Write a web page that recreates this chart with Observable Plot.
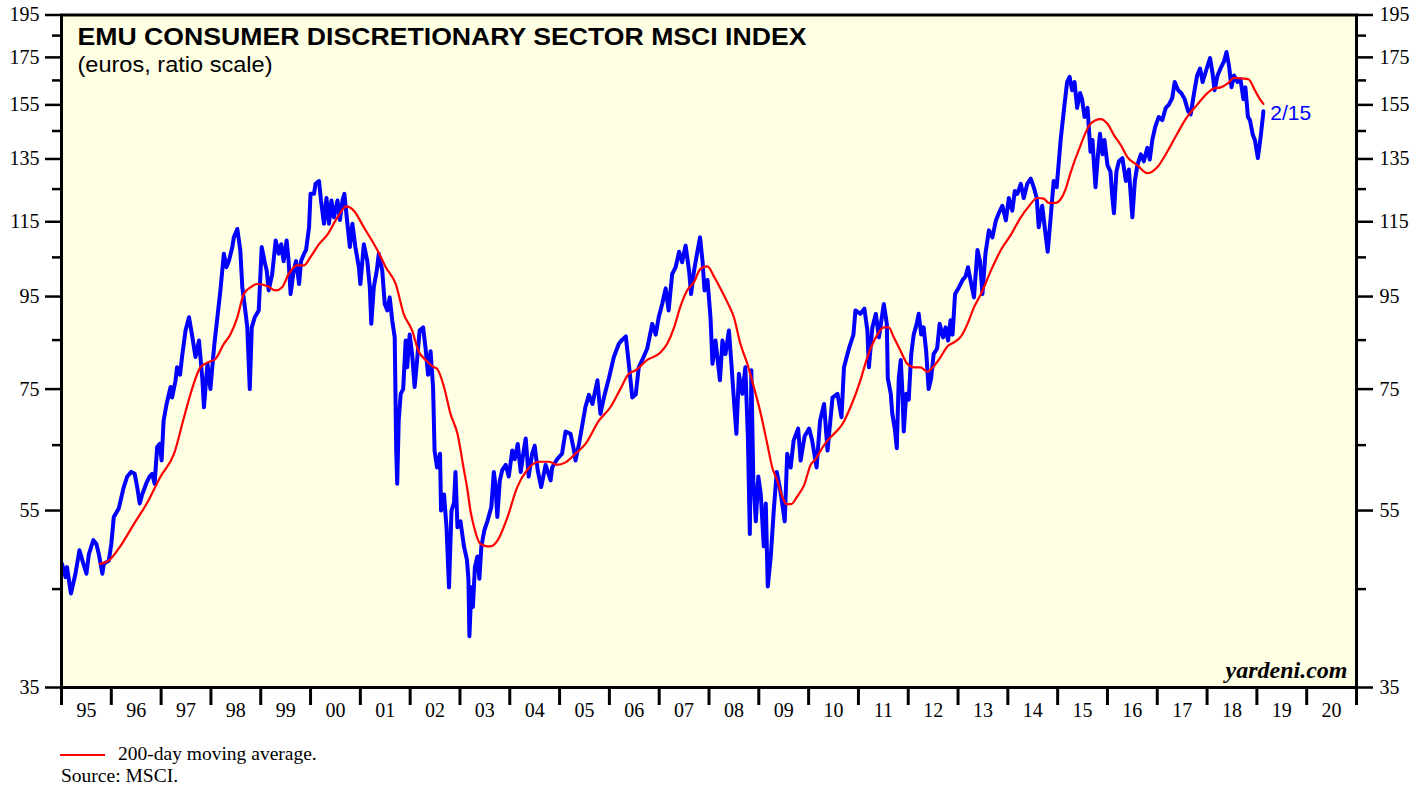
<!DOCTYPE html>
<html><head><meta charset="utf-8">
<script src="https://cdn.jsdelivr.net/npm/d3@7"></script>
<script src="https://cdn.jsdelivr.net/npm/@observablehq/plot@0.6"></script>
<style>
body{margin:0;background:#fff;width:1425px;height:786px;position:relative;overflow:hidden}
#chart{position:absolute;left:0;top:0}
.leg{position:absolute;font-family:"Liberation Serif",serif;font-size:19.5px;line-height:1;color:#000;white-space:nowrap}
.legline{position:absolute;left:60px;top:754px;width:45px;height:2px;background:#ff0000}
</style></head><body>
<div id="chart"></div>
<div class="legline"></div>
<div class="leg" id="legText" style="left:118px;top:743.5px"></div>
<div class="leg" id="srcText" style="left:61px;top:765.8px"></div>
<script>
// ---- Data (decimal year, index level in euros) ----
const indexSeries = [
[1995.01,48.0],[1995.08,46.4],[1995.11,47.6],[1995.19,44.5],[1995.28,46.8],[1995.36,49.7],[1995.42,48.4],[1995.50,46.8],[1995.55,49.2],[1995.64,51.0],[1995.70,50.5],[1995.75,49.2],[1995.82,46.8],[1995.85,48.0],[1995.95,48.4],
[1996.00,50.5],[1996.05,54.1],[1996.15,55.3],[1996.25,58.4],[1996.32,60.0],[1996.40,60.7],[1996.47,60.4],[1996.52,58.4],[1996.57,56.0],[1996.62,57.3],[1996.70,58.9],[1996.77,60.0],[1996.82,60.4],[1996.87,58.9],[1996.92,64.7],[1996.97,65.2],
[1997.01,62.5],[1997.05,69.2],[1997.11,72.2],[1997.19,75.4],[1997.22,73.4],[1997.29,76.7],[1997.32,79.3],[1997.38,77.8],[1997.42,81.4],[1997.49,87.1],[1997.56,90.1],[1997.62,86.2],[1997.69,81.4],[1997.76,84.9],[1997.83,76.7],[1997.86,71.6],[1997.93,80.0],[1997.99,75.0],
[1998.04,80.8],[1998.07,84.2],[1998.13,90.1],[1998.19,96.5],[1998.26,106.0],[1998.31,102.4],[1998.36,104.0],[1998.43,107.8],[1998.46,110.5],[1998.53,112.9],[1998.59,106.9],[1998.63,97.3],[1998.69,91.7],[1998.73,87.8],[1998.78,75.0],[1998.82,87.8],[1998.88,90.1],[1998.96,91.7],
[1999.02,107.8],[1999.08,103.7],[1999.12,101.5],[1999.16,96.5],[1999.23,100.6],[1999.30,109.6],[1999.36,106.0],[1999.41,108.6],[1999.46,104.0],[1999.52,109.6],[1999.56,104.0],[1999.60,95.6],[1999.66,101.5],[1999.71,104.0],[1999.77,98.1],[1999.81,104.0],[1999.87,106.0],[1999.91,107.0],[1999.97,113.4],
[2000.00,123.5],[2000.07,123.5],[2000.10,126.7],[2000.17,127.6],[2000.21,121.4],[2000.27,114.4],[2000.32,122.2],[2000.37,114.4],[2000.42,121.4],[2000.47,116.3],[2000.54,121.4],[2000.59,115.5],[2000.64,121.4],[2000.68,123.5],[2000.74,114.4],[2000.79,107.8],[2000.84,114.4],[2000.90,107.8],[2000.97,102.4],
[2001.00,98.1],[2001.07,108.6],[2001.14,104.0],[2001.19,97.3],[2001.22,88.6],[2001.27,97.3],[2001.33,101.5],[2001.37,106.0],[2001.44,101.5],[2001.49,93.2],[2001.54,91.7],[2001.59,94.8],[2001.64,89.4],[2001.69,85.6],[2001.72,64.1],[2001.74,58.9],[2001.77,69.2],[2001.81,74.1],[2001.86,75.0],[2001.91,84.9],[2001.94,79.3],[2001.99,86.2],
[2002.04,82.0],[2002.09,75.4],[2002.14,80.8],[2002.19,87.1],[2002.26,87.8],[2002.31,83.2],[2002.36,77.8],[2002.41,82.6],[2002.46,75.4],[2002.49,64.1],[2002.54,61.4],[2002.60,63.6],[2002.62,55.0],[2002.68,57.3],[2002.73,52.7],[2002.78,45.2],[2002.83,55.0],[2002.88,56.1],[2002.91,60.7],[2002.95,52.7],
[2003.01,53.5],[2003.08,50.2],[2003.14,48.5],[2003.17,46.2],[2003.19,39.9],[2003.23,45.2],[2003.26,43.0],[2003.30,47.6],[2003.35,48.9],[2003.39,46.2],[2003.43,50.2],[2003.49,52.3],[2003.55,53.5],[2003.63,55.5],[2003.68,60.7],[2003.71,58.9],[2003.75,54.1],[2003.80,59.4],[2003.85,61.0],[2003.92,61.8],[2003.98,60.0],
[2004.05,64.1],[2004.10,62.7],[2004.16,65.2],[2004.22,60.7],[2004.27,63.6],[2004.32,66.1],[2004.38,60.0],[2004.45,63.6],[2004.50,64.9],[2004.56,61.0],[2004.63,58.4],[2004.72,61.8],[2004.82,59.4],[2004.85,61.4],[2004.95,62.7],
[2005.05,63.6],[2005.12,67.3],[2005.22,66.9],[2005.29,64.1],[2005.32,62.5],[2005.39,65.2],[2005.46,68.6],[2005.52,71.7],[2005.59,73.9],[2005.66,72.2],[2005.76,76.7],[2005.82,70.4],[2005.89,73.4],[2005.99,77.1],
[2006.09,81.4],[2006.19,84.2],[2006.26,85.1],[2006.33,85.8],[2006.39,80.0],[2006.46,73.4],[2006.53,74.0],[2006.59,79.3],[2006.66,80.8],[2006.76,83.2],[2006.86,88.6],[2006.93,86.2],[2006.99,90.1],
[2007.06,93.2],[2007.13,97.0],[2007.19,91.7],[2007.26,100.6],[2007.33,102.4],[2007.40,106.5],[2007.46,103.7],[2007.53,108.2],[2007.60,101.5],[2007.64,95.6],[2007.70,101.5],[2007.76,106.0],[2007.82,110.5],[2007.87,104.0],[2007.91,96.5],[2007.97,99.1],
[2008.03,90.1],[2008.07,80.0],[2008.13,84.9],[2008.22,76.7],[2008.27,84.9],[2008.33,82.0],[2008.40,87.1],[2008.45,80.0],[2008.50,73.0],[2008.55,66.9],[2008.60,78.0],[2008.67,74.1],[2008.73,79.3],[2008.78,66.5],[2008.82,51.8],[2008.85,78.7],[2008.89,59.4],[2008.94,53.5],[2008.99,60.0],
[2009.04,57.3],[2009.10,50.2],[2009.14,56.0],[2009.18,45.3],[2009.24,48.9],[2009.30,55.0],[2009.36,60.7],[2009.42,58.4],[2009.47,56.0],[2009.52,53.5],[2009.57,63.6],[2009.64,61.4],[2009.70,65.8],[2009.79,67.8],[2009.84,62.5],[2009.92,66.5],
[2010.01,67.8],[2010.07,65.8],[2010.16,61.4],[2010.23,69.2],[2010.31,72.2],[2010.38,64.1],[2010.48,73.4],[2010.58,74.1],[2010.66,69.8],[2010.71,79.3],[2010.81,83.2],[2010.90,86.2],[2010.94,91.7],
[2011.04,90.9],[2011.12,92.1],[2011.18,87.1],[2011.21,79.3],[2011.28,87.8],[2011.35,90.9],[2011.41,85.6],[2011.51,93.2],[2011.57,88.6],[2011.59,77.1],[2011.65,74.1],[2011.68,70.4],[2011.73,67.8],[2011.77,64.5],[2011.81,77.1],[2011.85,80.8],[2011.88,75.0],[2011.91,67.3],[2011.96,74.1],
[2012.01,73.0],[2012.06,82.0],[2012.11,86.2],[2012.17,88.6],[2012.21,90.9],[2012.26,86.2],[2012.31,87.8],[2012.36,82.6],[2012.41,75.0],[2012.46,77.1],[2012.51,82.0],[2012.58,83.2],[2012.63,88.6],[2012.70,85.6],[2012.75,87.8],[2012.80,84.9],[2012.85,89.4],[2012.89,86.2],[2012.94,95.6],
[2013.02,97.3],[2013.09,99.1],[2013.15,100.0],[2013.20,102.4],[2013.25,99.1],[2013.32,94.8],[2013.39,107.0],[2013.44,104.0],[2013.49,95.6],[2013.55,106.0],[2013.62,112.5],[2013.69,110.5],[2013.76,115.4],[2013.82,117.6],[2013.89,119.8],[2013.96,115.4],
[2014.02,122.2],[2014.09,118.3],[2014.14,124.4],[2014.19,123.5],[2014.26,126.7],[2014.32,122.2],[2014.39,126.7],[2014.46,128.4],[2014.52,125.6],[2014.58,122.2],[2014.62,113.4],[2014.69,119.8],[2014.74,113.4],[2014.80,106.5],[2014.86,116.3],[2014.92,127.6],[2014.98,125.6],
[2015.06,141.7],[2015.13,153.8],[2015.19,164.3],[2015.24,166.5],[2015.29,160.9],[2015.34,164.3],[2015.39,153.8],[2015.45,159.8],[2015.49,157.3],[2015.54,150.3],[2015.60,153.8],[2015.63,145.1],[2015.66,137.5],[2015.70,141.7],[2015.73,132.9],[2015.76,125.6],[2015.81,136.6],[2015.85,144.0],[2015.90,136.6],[2015.94,141.7],
[2016.00,132.9],[2016.06,130.7],[2016.10,122.2],[2016.13,117.5],[2016.18,130.7],[2016.23,134.2],[2016.30,135.3],[2016.37,127.6],[2016.43,131.4],[2016.50,116.3],[2016.55,127.6],[2016.60,132.9],[2016.67,136.6],[2016.73,134.2],[2016.80,138.9],[2016.85,134.8],[2016.90,141.7],[2016.96,146.6],
[2017.03,150.3],[2017.10,149.1],[2017.17,153.8],[2017.23,155.0],[2017.30,157.7],[2017.35,164.3],[2017.42,160.9],[2017.48,159.8],[2017.55,157.3],[2017.62,152.5],[2017.67,151.3],[2017.74,159.8],[2017.80,167.1],[2017.86,170.1],[2017.91,164.3],[2017.95,167.1],
[2018.01,171.3],[2018.06,174.7],[2018.11,168.0],[2018.15,160.9],[2018.21,167.1],[2018.27,170.1],[2018.34,173.2],[2018.39,177.4],[2018.44,171.3],[2018.49,162.1],[2018.54,167.1],[2018.61,164.3],[2018.67,165.5],[2018.73,157.3],[2018.77,162.1],[2018.82,150.3],[2018.86,149.1],[2018.92,143.5],[2018.96,141.7],
[2019.02,135.3],[2019.08,143.5],[2019.12,150.3],[2019.13,152.5]
];

const movingAverage200 = [
[1995.77,48.0],[1995.95,48.4],[1996.18,50.2],[1996.45,53.1],[1996.72,56.1],[1996.99,60.0],[1997.26,63.6],[1997.46,69.8],[1997.62,75.0],[1997.79,79.3],[1997.96,80.4],
[1998.09,81.0],[1998.26,84.2],[1998.39,86.2],[1998.53,90.1],[1998.66,95.6],[1998.80,97.3],[1998.93,98.1],[1999.13,97.6],[1999.30,96.5],[1999.43,97.3],[1999.56,100.6],[1999.73,102.9],[1999.87,102.9],
[2000.00,105.1],[2000.17,108.6],[2000.34,111.3],[2000.54,116.3],[2000.72,119.6],[2000.87,118.3],[2001.07,113.4],[2001.34,107.0],[2001.51,102.4],[2001.71,98.1],[2001.87,90.9],
[2002.04,87.1],[2002.17,82.6],[2002.31,80.8],[2002.48,79.3],[2002.54,79.0],[2002.68,75.4],[2002.81,70.4],[2002.95,66.9],[2003.08,61.0],[2003.15,58.0],[2003.21,55.0],[2003.28,52.8],[2003.41,50.5],[2003.55,50.2],[2003.61,50.2],[2003.75,50.9],[2003.95,54.0],
[2004.15,58.4],[2004.35,61.0],[2004.58,62.3],[2004.79,62.3],[2004.95,61.8],[2005.12,62.2],[2005.32,63.6],[2005.52,65.2],[2005.79,69.2],[2006.02,71.6],[2006.22,75.0],[2006.39,78.0],[2006.53,78.7],[2006.76,80.8],
[2007.02,82.3],[2007.16,84.2],[2007.30,87.8],[2007.42,92.4],[2007.56,96.5],[2007.70,98.6],[2007.83,102.0],[2007.97,102.6],[2008.10,100.0],[2008.23,97.0],[2008.37,93.6],[2008.50,90.1],[2008.63,84.2],[2008.77,80.0],[2008.90,75.4],
[2009.04,70.4],[2009.17,65.2],[2009.27,61.4],[2009.37,59.4],[2009.47,57.0],[2009.56,55.9],[2009.65,55.9],[2009.77,57.0],[2009.91,58.7],[2010.04,61.8],[2010.14,62.7],[2010.24,64.1],[2010.38,65.8],[2010.51,66.9],[2010.68,68.6],[2010.84,71.6],
[2011.04,76.7],[2011.18,81.4],[2011.35,85.6],[2011.51,87.8],[2011.61,87.8],[2011.71,85.6],[2011.85,82.6],[2011.98,80.0],[2012.11,79.3],[2012.25,79.3],[2012.38,78.4],[2012.52,79.6],[2012.65,81.4],[2012.79,83.7],[2012.92,84.5],
[2013.06,85.8],[2013.19,88.6],[2013.32,92.4],[2013.46,95.6],[2013.66,101.5],[2013.86,107.0],[2014.06,111.2],[2014.26,116.3],[2014.42,119.6],[2014.59,122.2],[2014.72,122.0],[2014.82,120.7],[2014.96,120.7],
[2015.06,121.8],[2015.16,125.0],[2015.26,130.4],[2015.46,139.8],[2015.66,147.7],[2015.86,149.5],[2016.00,147.7],[2016.13,143.5],[2016.27,139.8],[2016.40,135.6],[2016.60,132.9],[2016.80,130.2],
[2017.00,132.2],[2017.20,137.5],[2017.40,144.0],[2017.60,150.3],[2017.80,155.0],[2018.01,159.8],[2018.13,161.6],[2018.27,162.1],[2018.43,164.0],[2018.54,166.1],[2018.71,165.8],[2018.83,165.5],[2018.96,160.9],[2019.06,157.3],[2019.13,155.4]
];

const yMajorTicks = [35, 55, 75, 95, 115, 135, 155, 175, 195];
const yMinorTicks = [45, 65, 85, 105, 125, 145, 165, 185];
const yearStarts = d3.range(1995, 2022);
const yearLabels = ["95","96","97","98","99","00","01","02","03","04","05","06","07","08","09","10","11","12","13","14","15","16","17","18","19","20"];
const titleText = "EMU CONSUMER DISCRETIONARY SECTOR MSCI INDEX";
const subtitleText = "(euros, ratio scale)";
const lastLabel = "2/15";
const brand = "yardeni.com";
const legendText = "200-day moving average.";
const sourceText = "Source: MSCI.";

const yearMids = yearLabels.map((_, i) => 1995.5 + i);
const labelOf = new Map(yearMids.map((m, i) => [m, yearLabels[i]]));
const lastPoint = indexSeries[indexSeries.length - 1];

const chart = Plot.plot({
  width: 1425, height: 730,
  marginLeft: 61, marginRight: 69, marginTop: 14.5, marginBottom: 43,
  x: {type: "linear", domain: [1995, 2021]},
  y: {type: "log", domain: [35, 195]},
  style: {fontFamily: "'Liberation Serif', serif", fontSize: "20px", color: "#000", background: "transparent", overflow: "visible"},
  marks: [
    Plot.frame({fill: "#ffffe4", stroke: null}),
    Plot.line(indexSeries, {x: d => d[0], y: d => d[1], stroke: "#0000ff", strokeWidth: 4, strokeLinejoin: "round"}),
    Plot.line(movingAverage200, {x: d => d[0], y: d => d[1], stroke: "#ff0000", strokeWidth: 2.2, curve: "monotone-x"}),
    Plot.frame({stroke: "#000", strokeWidth: 3}),
    Plot.axisY(yMajorTicks, {anchor: "left", tickSize: 16, tickPadding: 6, strokeWidth: 2.5, tickFormat: d => String(d), label: null}),
    Plot.axisY(yMinorTicks, {anchor: "left", tickSize: 9, strokeWidth: 2.5, tickFormat: () => "", label: null}),
    Plot.axisY(yMajorTicks, {anchor: "right", tickSize: 16, tickPadding: 7, strokeWidth: 2.5, tickFormat: d => String(d), label: null}),
    Plot.axisY(yMinorTicks, {anchor: "right", tickSize: 9, strokeWidth: 2.5, tickFormat: () => "", label: null}),
    Plot.axisX(yearStarts, {anchor: "bottom", tickSize: 18, strokeWidth: 3, tickFormat: () => "", label: null}),
    Plot.axisX(yearMids, {anchor: "bottom", tickSize: 0, tickPadding: 15, tickFormat: d => labelOf.get(d), label: null}),
    Plot.text([titleText], {frameAnchor: "top-left", dx: 16, dy: 13, text: d => d, textAnchor: "start", lineAnchor: "top", fontFamily: "'Liberation Sans', Arial, sans-serif", fontWeight: "bold", fontSize: 24, fill: "#000"}),
    Plot.text([subtitleText], {frameAnchor: "top-left", dx: 16, dy: 41, text: d => d, textAnchor: "start", lineAnchor: "top", fontFamily: "'Liberation Sans', Arial, sans-serif", fontSize: 22, fill: "#000"}),
    Plot.text([lastPoint], {x: d => d[0], y: d => d[1], text: () => lastLabel, dx: 7, dy: 2, textAnchor: "start", lineAnchor: "middle", fontFamily: "'Liberation Sans', Arial, sans-serif", fontSize: 21, fill: "#0000ff"}),
    Plot.text([brand], {frameAnchor: "bottom-right", dx: -9, dy: -17, text: d => d, textAnchor: "end", lineAnchor: "middle", fontFamily: "'Liberation Serif', serif", fontWeight: "bold", fontStyle: "italic", fontSize: 24, fill: "#000"})
  ]
});
document.getElementById("chart").appendChild(chart);
const sel = d3.select(chart);
sel.selectAll("text").filter(function(){ return this.textContent === titleText; })
  .attr("textLength", 729).attr("lengthAdjust", "spacingAndGlyphs");
sel.selectAll("text").filter(function(){ return this.textContent === subtitleText; })
  .attr("textLength", 195).attr("lengthAdjust", "spacingAndGlyphs");
document.getElementById("legText").textContent = legendText;
document.getElementById("srcText").textContent = sourceText;
</script>
</body></html>
